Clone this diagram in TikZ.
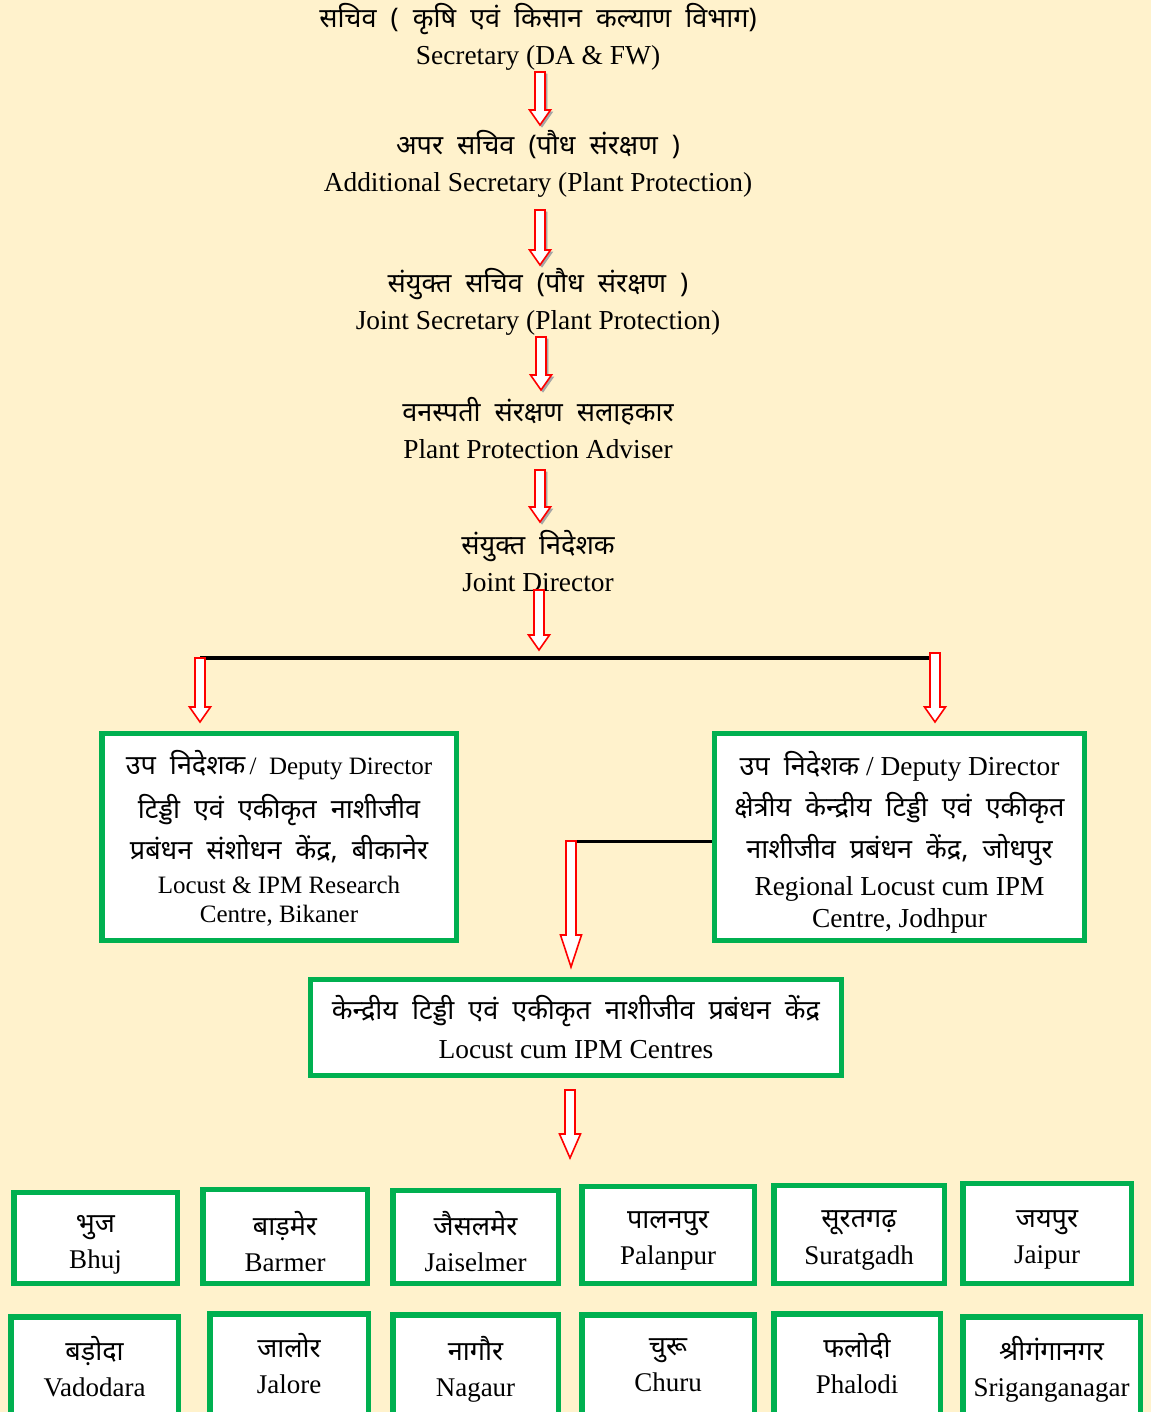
\documentclass[tikz,border=0pt]{standalone}
\usepackage{fontspec}
\setmainfont{Liberation Serif}
\newfontfamily\devfont[Script=Devanagari, WordSpace=2]{Noto Sans}
\usetikzlibrary{calc}

\definecolor{bgyellow}{HTML}{FFF2CC}
\definecolor{boxgreen}{HTML}{00B050}
\definecolor{arrowred}{HTML}{FF0000}

\newcommand{\hin}[1]{{\devfont\fontsize{13.5}{14}\selectfont #1}}

\begin{document}
\begin{tikzpicture}[
    x=0.5pt,
    y=-0.5pt,
    headlen/.store in=\arrowhl,
    headlen=7.5pt,
    lvl/.style={align=center, inner sep=0pt, font=\fontsize{13.7}{18.5}\selectfont},
    greenbox/.style={draw=boxgreen, line width=2.75pt, fill=white, inner sep=0pt},
    boxtext/.style={align=center, inner sep=0pt},
    junction/.style={draw=black, line width=2pt},
    bigarrow/.style={draw=arrowred, fill=white, line width=0.8pt, line join=miter,
        to path={let \p1=(\tikztostart), \p2=(\tikztotarget) in
            (\x1-2.5pt,\y1) -- (\x1+2.5pt,\y1) -- (\x1+2.5pt,\y2+\arrowhl)
            -- (\x1+5.25pt,\y2+\arrowhl) -- (\x1,\y2) -- (\x1-5.25pt,\y2+\arrowhl)
            -- (\x1-2.5pt,\y2+\arrowhl) -- cycle}},
    shadowed/.style={preaction={draw=gray!70, fill=gray!70, transform canvas={shift={(1pt,-1pt)}}}},
]

    \clip (0,0) rectangle (1151,1412);
    \fill[bgyellow] (0,0) rectangle (1151,1412);

    % chain of posts
    \node[lvl] (secy)  at (538,36.5)  {\hin{सचिव ( कृषि एवं किसान कल्याण विभाग)}\\Secretary (DA \& FW)};
    \node[lvl] (addl)  at (538,163.5) {\hin{अपर सचिव (पौध संरक्षण )}\\Additional Secretary (Plant Protection)};
    \node[lvl] (jsecy) at (538,301.5) {\hin{संयुक्त सचिव (पौध संरक्षण )}\\Joint Secretary (Plant Protection)};
    \node[lvl] (ppa)   at (538,428.5) {\hin{वनस्पती संरक्षण सलाहकार}\\Plant Protection Adviser};
    \node[lvl] (jdir)  at (538,561)   {\hin{संयुक्त निदेशक}\\Joint Director};

    \foreach \k/\x/\ya/\yb in {1/540/72/125, 2/540/210/265, 3/541/337/390, 4/540/470/522} {
        \coordinate (s\k) at (\x,\ya);
        \coordinate (e\k) at (\x,\yb);
    }
    \draw[bigarrow, shadowed] (s1) to (e1);
    \draw[bigarrow, shadowed] (s2) to (e2);
    \draw[bigarrow, shadowed] (s3) to (e3);
    \draw[bigarrow, shadowed] (s4) to (e4);
    \coordinate (s5) at (539,590);
    \coordinate (e5) at (539,650);
    \draw[bigarrow] (s5) to (e5);

    % deputy directors
    \node[greenbox, minimum width=177.25pt, minimum height=103.5pt,
          label={[boxtext, yshift=-0.75pt, font=\fontsize{12.5}{14.5}\selectfont]center:{%
        \hin{उप निदेशक}\,/\enspace Deputy Director\\[6pt]
        \hin{टिड्डी एवं एकीकृत नाशीजीव}\\[4pt]
        \hin{प्रबंधन संशोधन केंद्र, बीकानेर}\\[2.5pt]
        Locust \& IPM Research\\
        Centre, Bikaner}}] (bikaner) at (279,837) {};
    \node[greenbox, minimum width=185pt, minimum height=103.5pt,
          label={[boxtext, yshift=-2.5pt, font=\fontsize{13.7}{16}\selectfont]center:{%
        \hin{उप निदेशक} / Deputy Director\\[4.5pt]
        \hin{क्षेत्रीय केन्द्रीय टिड्डी एवं एकीकृत}\\[5pt]
        \hin{नाशीजीव प्रबंधन केंद्र, जोधपुर}\\[2.5pt]
        Regional Locust cum IPM\\
        Centre, Jodhpur}}] (jodhpur) at (899.5,837) {};

    \coordinate (jl) at (200,658);
    \coordinate (jr) at (940,658);
    \draw[junction] (jl) -- (jr);
    \coordinate (tl) at (200,722);
    \draw[bigarrow] (jl) to (tl);
    \coordinate (sr) at (935,653);
    \coordinate (tr) at (935,722);
    \draw[bigarrow] (sr) to (tr);

    % centres
    \node[greenbox, minimum width=265.5pt, minimum height=48pt,
          label={[boxtext, yshift=0pt, font=\fontsize{13.7}{19.5}\selectfont]center:{%
        \hin{केन्द्रीय टिड्डी एवं एकीकृत नाशीजीव प्रबंधन केंद्र}\\Locust cum IPM Centres}}]
        (centres) at (576,1027.5) {};

    \coordinate (mj) at (571,841);
    \draw[junction, line width=1.5pt] (mj) -- (mj -| jodhpur.west);
    \coordinate (tm) at (571,967);
    \draw[bigarrow, headlen=16pt] (mj) to (tm);

    \coordinate (sb) at (570,1090);
    \coordinate (tb) at (570,1158);
    \draw[bigarrow, headlen=12pt] (sb) to (tb);

    % field centres
    \foreach \nm/\cx/\cy/\w/\h/\dy/\hn/\en in {
        bhuj/95.5/1238/81.75/45.5/-3.5/भुज/Bhuj,
        barmer/285/1236.5/82.25/47/-2.5/बाड़मेर/Barmer,
        jaisalmer/475.5/1237/82.75/46.5/-2.5/जैसलमेर/Jaiselmer,
        palanpur/668/1235/86.25/48.5/-3/पालनपुर/Palanpur,
        suratgadh/859/1234.5/85.25/49/-3/सूरतगढ़/Suratgadh,
        jaipur/1047/1233.5/84.25/50/-3/जयपुर/Jaipur,
        vadodara/94.5/1371.75/83.75/55/2.5/बड़ोदा/Vadodara,
        jalore/289/1368.75/79.25/55/2.5/जालोर/Jalore,
        nagaur/475.5/1369.75/82.75/55/0/नागौर/Nagaur,
        churu/668/1369.75/86.25/55/2.5/चुरू/Churu,
        phalodi/857/1368.75/83.25/55/2.5/फलोदी/Phalodi,
        sriganganagar/1051.5/1371.75/88.75/55/1/श्रीगंगानगर/Sriganganagar} {
        \node[greenbox, minimum width=\w pt, minimum height=\h pt,
              label={[boxtext, yshift=\dy pt, font=\fontsize{13.5}{18}\selectfont]center:{\hin{\hn}\\\en}}]
              (\nm) at (\cx,\cy) {};
    }

\end{tikzpicture}
\end{document}
